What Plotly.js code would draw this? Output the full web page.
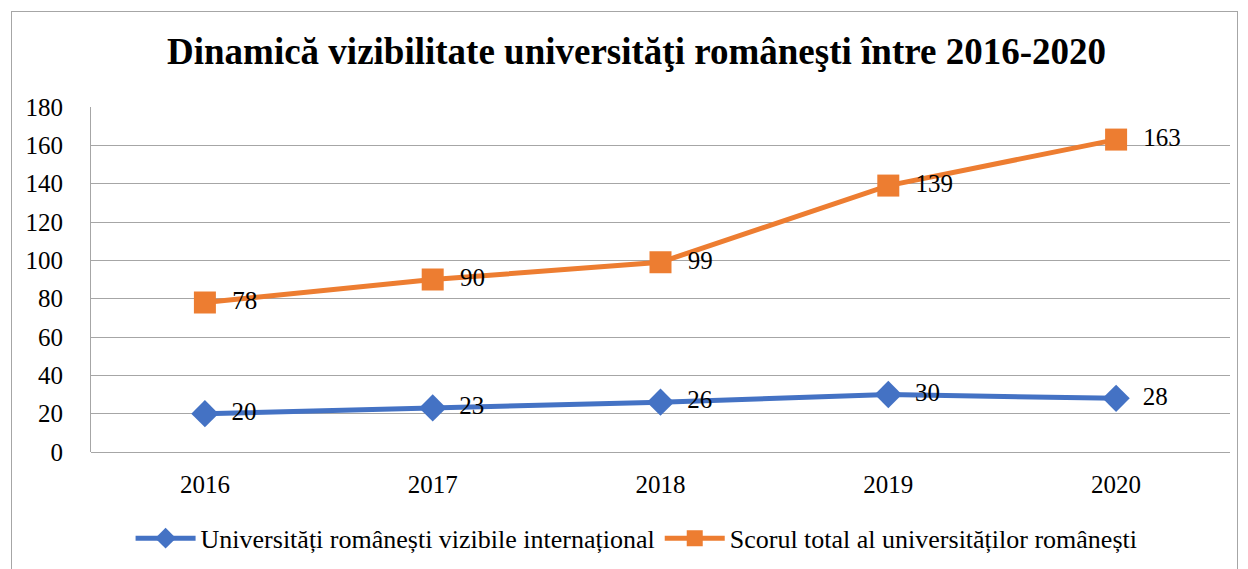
<!DOCTYPE html>
<html>
<head>
<meta charset="utf-8">
<script src="https://cdn.plot.ly/plotly-3.0.1.min.js"></script>
<style>
  body { margin: 0; background: #fff; }
  #plot { width: 1248px; height: 569px; }
  #frame { position: absolute; left: 11px; top: 11px; width: 1225px; height: 600px;
           border: 1px solid #a6a6a6; pointer-events: none; }
</style>
</head>
<body>
<div id="plot"></div>
<div id="frame"></div>
<script>
// data
let years = ["2016", "2017", "2018", "2019", "2020"];
let vizibile = [20, 23, 26, 30, 28];
let scor = [78, 90, 99, 139, 163];

let serif = "Liberation Serif";

let blueTrace = {
    x: years,
    y: vizibile,
    texttemplate: "\u00a0\u00a0%{y}",
    name: "Universități românești vizibile internațional",
    type: "scatter",
    mode: "lines+markers+text",
    textposition: "middle right",
    textfont: { family: serif, size: 25, color: "#000" },
    line: { color: "#4472C4", width: 5 },
    marker: { symbol: "diamond", size: 21, color: "#4472C4" },
    cliponaxis: false
};

let orangeTrace = {
    x: years,
    y: scor,
    texttemplate: "\u00a0\u00a0%{y}",
    name: "Scorul total al universităților românești",
    type: "scatter",
    mode: "lines+markers+text",
    textposition: "middle right",
    textfont: { family: serif, size: 25, color: "#000" },
    line: { color: "#ED7D31", width: 5 },
    marker: { symbol: "square", size: 22, color: "#ED7D31" },
    cliponaxis: false
};

let layout = {
    title: {
        text: "<b>Dinamică vizibilitate universităţi româneşti între 2016-2020</b>",
        font: { family: serif, size: 37, color: "#000" },
        x: 0.51, xref: "container", xanchor: "center",
        y: 0.91, yref: "container", yanchor: "middle"
    },
    font: { family: serif, color: "#000" },
    paper_bgcolor: "#fff",
    plot_bgcolor: "#fff",
    margin: { l: 91, r: 18, t: 107, b: 117, pad: 0, autoexpand: false },
    showlegend: true,
    legend: {
        orientation: "h",
        x: 0.479, xanchor: "center",
        y: -0.25, yanchor: "middle",
        font: { family: serif, size: 26, color: "#000" },
        itemwidth: 60
    },
    xaxis: {
        type: "category",
        range: [-0.5, 4.5],
        showgrid: false,
        zeroline: false,
        showline: false,
        ticks: "",
        tickfont: { family: serif, size: 25, color: "#000" },
        ticklabelstandoff: 15
    },
    yaxis: {
        range: [0, 180],
        dtick: 20,
        showgrid: true,
        gridcolor: "#a6a6a6",
        gridwidth: 1,
        zeroline: true,
        zerolinecolor: "#a6a6a6",
        showline: true,
        linecolor: "#a6a6a6",
        ticks: "",
        tickfont: { family: serif, size: 25, color: "#000" },
        ticklabelstandoff: 22
    }
};

Plotly.newPlot("plot", [blueTrace, orangeTrace], layout, { displayModeBar: false });
</script>
</body>
</html>
